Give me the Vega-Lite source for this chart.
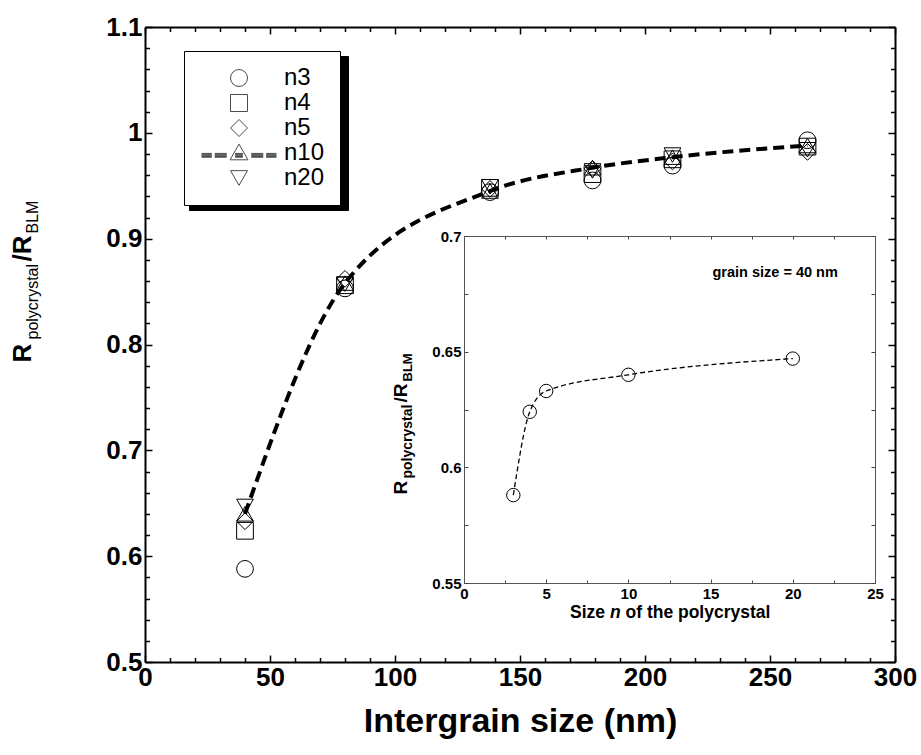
{
  "$schema": "https://vega.github.io/schema/vega-lite/v6.json",
  "width": 750,
  "height": 635,
  "autosize": "none",
  "padding": {"left": 145, "top": 27, "right": 26, "bottom": 93},
  "background": "white",
  "config": {"view": {"stroke": null}, "font": "Liberation Sans", "axis": {"grid": false}},
  "datasets": {
    "main": [
      {"intergrain": 40, "ratio": 0.588, "series": "n3"},
      {"intergrain": 40, "ratio": 0.624, "series": "n4"},
      {"intergrain": 40, "ratio": 0.633, "series": "n5"},
      {"intergrain": 40, "ratio": 0.640, "series": "n10"},
      {"intergrain": 40, "ratio": 0.647, "series": "n20"},
      {"intergrain": 80, "ratio": 0.853, "series": "n3"},
      {"intergrain": 80, "ratio": 0.856, "series": "n4"},
      {"intergrain": 80, "ratio": 0.862, "series": "n5"},
      {"intergrain": 80, "ratio": 0.858, "series": "n10"},
      {"intergrain": 80, "ratio": 0.857, "series": "n20"},
      {"intergrain": 138, "ratio": 0.944, "series": "n3"},
      {"intergrain": 138, "ratio": 0.948, "series": "n4"},
      {"intergrain": 138, "ratio": 0.947, "series": "n5"},
      {"intergrain": 138, "ratio": 0.945, "series": "n10"},
      {"intergrain": 138, "ratio": 0.949, "series": "n20"},
      {"intergrain": 179, "ratio": 0.955, "series": "n3"},
      {"intergrain": 179, "ratio": 0.961, "series": "n4"},
      {"intergrain": 179, "ratio": 0.966, "series": "n5"},
      {"intergrain": 179, "ratio": 0.967, "series": "n10"},
      {"intergrain": 179, "ratio": 0.964, "series": "n20"},
      {"intergrain": 211, "ratio": 0.969, "series": "n3"},
      {"intergrain": 211, "ratio": 0.975, "series": "n4"},
      {"intergrain": 211, "ratio": 0.973, "series": "n5"},
      {"intergrain": 211, "ratio": 0.977, "series": "n10"},
      {"intergrain": 211, "ratio": 0.979, "series": "n20"},
      {"intergrain": 265, "ratio": 0.993, "series": "n3"},
      {"intergrain": 265, "ratio": 0.987, "series": "n4"},
      {"intergrain": 265, "ratio": 0.982, "series": "n5"},
      {"intergrain": 265, "ratio": 0.988, "series": "n10"},
      {"intergrain": 265, "ratio": 0.984, "series": "n20"}
    ],
    "inset": [
      {"n": 3, "ratio": 0.588},
      {"n": 4, "ratio": 0.624},
      {"n": 5, "ratio": 0.633},
      {"n": 10, "ratio": 0.640},
      {"n": 20, "ratio": 0.647}
    ]
  },
  "resolve": {"scale": {"x": "independent", "y": "independent", "shape": "independent"}},
  "layer": [
    {
      "data": {"name": "main"},
      "mark": {"type": "point", "filled": false, "stroke": "black", "strokeWidth": 1, "size": 280, "opacity": 1},
      "encoding": {
        "x": {
          "field": "intergrain", "type": "quantitative",
          "scale": {"domain": [0, 300], "nice": false, "zero": false},
          "axis": {
            "orient": "bottom",
            "values": [0,10,20,30,40,50,60,70,80,90,100,110,120,130,140,150,160,170,180,190,200,210,220,230,240,250,260,270,280,290,300],
            "labelExpr": "datum.value % 50 === 0 ? datum.value + '' : ''",
            "tickSize": {"condition": {"test": "datum.value % 50 === 0", "value": -7}, "value": -4.5},
            "tickColor": "black", "tickWidth": 1.5,
            "domainColor": "black", "domainWidth": 2,
            "labelFont": "Liberation Sans", "labelFontSize": 26, "labelFontWeight": "bold", "labelColor": "black",
            "labelPadding": 9, "labelOverlap": false, "labelBound": false, "labelFlush": false,
            "title": "Intergrain size (nm)",
            "titleFont": "Liberation Sans", "titleFontSize": 34, "titleFontWeight": "bold", "titleColor": "black",
            "titlePadding": 12
          }
        },
        "y": {
          "field": "ratio", "type": "quantitative",
          "scale": {"domain": [0.5, 1.1], "nice": false, "zero": false},
          "axis": {
            "orient": "left",
            "values": [0.5,0.52,0.54,0.56,0.58,0.6,0.62,0.64,0.66,0.68,0.7,0.72,0.74,0.76,0.78,0.8,0.82,0.84,0.86,0.88,0.9,0.92,0.94,0.96,0.98,1.0,1.02,1.04,1.06,1.08,1.1],
            "labelExpr": "round(datum.value*100) % 10 === 0 ? datum.value + '' : ''",
            "tickSize": {"condition": {"test": "round(datum.value*100) % 10 === 0", "value": -7}, "value": -4.5},
            "tickColor": "black", "tickWidth": 1.5,
            "domainColor": "black", "domainWidth": 2,
            "labelFont": "Liberation Sans", "labelFontSize": 26, "labelFontWeight": "bold", "labelColor": "black",
            "labelPadding": 10, "labelOverlap": false, "labelBound": false, "labelFlush": false,
            "title": null
          }
        },
        "shape": {
          "field": "series", "type": "nominal",
          "scale": {"domain": ["n3", "n4", "n5", "n10", "n20"], "range": ["circle", "square", "diamond", "triangle-up", "triangle-down"]},
          "legend": null
        }
      }
    },
    {
      "data": {"name": "main"},
      "transform": [{"filter": "datum.series === 'n10'"}],
      "mark": {"type": "line", "color": "black", "strokeWidth": 4, "strokeDash": [11, 6], "interpolate": "monotone"},
      "encoding": {
        "x": {
          "field": "intergrain", "type": "quantitative",
          "scale": {"domain": [0, 300], "nice": false, "zero": false},
          "axis": {
            "orient": "top",
            "values": [0,10,20,30,40,50,60,70,80,90,100,110,120,130,140,150,160,170,180,190,200,210,220,230,240,250,260,270,280,290,300],
            "labels": false,
            "tickSize": {"condition": {"test": "datum.value % 50 === 0", "value": -7}, "value": -4.5},
            "tickColor": "black", "tickWidth": 1.5,
            "domainColor": "black", "domainWidth": 2,
            "title": null
          }
        },
        "y": {
          "field": "ratio", "type": "quantitative",
          "scale": {"domain": [0.5, 1.1], "nice": false, "zero": false},
          "axis": {
            "orient": "right",
            "values": [0.5,0.52,0.54,0.56,0.58,0.6,0.62,0.64,0.66,0.68,0.7,0.72,0.74,0.76,0.78,0.8,0.82,0.84,0.86,0.88,0.9,0.92,0.94,0.96,0.98,1.0,1.02,1.04,1.06,1.08,1.1],
            "labels": false,
            "tickSize": {"condition": {"test": "round(datum.value*100) % 10 === 0", "value": -7}, "value": -4.5},
            "tickColor": "black", "tickWidth": 1.5,
            "domainColor": "black", "domainWidth": 2,
            "title": null
          }
        }
      }
    },
    {
      "data": {"name": "main"},
      "transform": [{"filter": "false"}],
      "mark": {"type": "point", "filled": false, "color": "black", "strokeWidth": 1, "size": 289},
      "encoding": {
        "shape": {
          "field": "series", "type": "nominal",
          "scale": {"domain": ["n3", "n4", "n5", "n10", "n20"], "range": ["circle", "square", "diamond", "triangle-up", "triangle-down"]},
          "legend": {
            "orient": "none", "legendX": 44, "legendY": 29,
            "title": null,
            "padding": 15,
            "symbolOffset": 72,
            "labelOffset": 33,
            "rowPadding": 1,
            "labelFont": "Liberation Sans", "labelFontSize": 24, "labelColor": "black",
            "labelExpr": "'\u00a0'",
            "symbolSize": 289,
            "symbolStrokeWidth": 1,
            "symbolStrokeColor": "black",
            "symbolFillColor": "black",
            "strokeColor": "black",
            "fillColor": "black"
          }
        }
      }
    },
    {
      "data": {"name": "main"},
      "transform": [{"filter": "false"}],
      "mark": {"type": "point", "filled": false, "color": "black", "strokeWidth": 1, "size": 289},
      "encoding": {
        "shape": {
          "field": "series", "type": "nominal",
          "scale": {"domain": ["n3", "n4", "n5", "n10", "n20"], "range": ["circle", "square", "diamond", "M0,-1.05L1.05,0.8L-1.05,0.8Z M-4.4,0.05H-3.2M-4.4,0.14H-3.2M-4.4,0.23H-3.2M-4.4,0.32H-3.2M-4.4,0.41H-3.2M-4.4,0.5H-3.2 M-2.85,0.05H-1.45M-2.85,0.14H-1.45M-2.85,0.23H-1.45M-2.85,0.32H-1.45M-2.85,0.41H-1.45M-2.85,0.5H-1.45 M-0.45,0.05H0.45M-0.45,0.14H0.45M-0.45,0.23H0.45M-0.45,0.32H0.45M-0.45,0.41H0.45M-0.45,0.5H0.45 M1.45,0.05H2.85M1.45,0.14H2.85M1.45,0.23H2.85M1.45,0.32H2.85M1.45,0.41H2.85M1.45,0.5H2.85 M3.2,0.05H4.4M3.2,0.14H4.4M3.2,0.23H4.4M3.2,0.32H4.4M3.2,0.41H4.4M3.2,0.5H4.4", "triangle-down"]},
          "legend": {
            "orient": "none", "legendX": 39, "legendY": 24,
            "title": null,
            "padding": 15,
            "symbolOffset": 28,
            "labelOffset": 33,
            "rowPadding": 1,
            "labelFont": "Liberation Sans", "labelFontSize": 24, "labelColor": "black",
            "labelExpr": "datum.label + '\u00a0\u00a0\u00a0'",
            "symbolSize": 289,
            "symbolStrokeWidth": 1,
            "symbolStrokeColor": "black",
            "symbolFillColor": "transparent",
            "strokeColor": "black",
            "fillColor": "white"
          }
        }
      }
    },
    {
      "data": {"name": "main"},
      "transform": [{"filter": "false"}],
      "mark": {"type": "point"},
      "encoding": {
        "x": {"field": "intergrain", "type": "quantitative", "scale": {"domain": [0, 300], "nice": false, "zero": false},
          "axis": {"orient": "top", "domain": false, "ticks": false, "labels": false, "title": "R",
            "titleX": -115, "titleY": 335, "titleAngle": -90, "titleAlign": "left", "titleBaseline": "alphabetic",
            "titleFont": "Liberation Sans", "titleFontSize": 26, "titleFontWeight": "bold", "titleColor": "black"}},
        "y": {"field": "ratio", "type": "quantitative", "scale": {"domain": [0.5, 1.1], "nice": false, "zero": false},
          "axis": {"orient": "left", "domain": false, "ticks": false, "labels": false, "title": "polycrystal",
            "titleX": -108, "titleY": 312, "titleAngle": -90, "titleAlign": "left", "titleBaseline": "alphabetic",
            "titleFont": "Liberation Sans", "titleFontSize": 16, "titleFontWeight": "normal", "titleColor": "black"}}
      }
    },
    {
      "data": {"name": "main"},
      "transform": [{"filter": "false"}],
      "mark": {"type": "point"},
      "encoding": {
        "x": {"field": "intergrain", "type": "quantitative", "scale": {"domain": [0, 300], "nice": false, "zero": false},
          "axis": {"orient": "top", "domain": false, "ticks": false, "labels": false, "title": "/R",
            "titleX": -115, "titleY": 234, "titleAngle": -90, "titleAlign": "left", "titleBaseline": "alphabetic",
            "titleFont": "Liberation Sans", "titleFontSize": 26, "titleFontWeight": "bold", "titleColor": "black"}},
        "y": {"field": "ratio", "type": "quantitative", "scale": {"domain": [0.5, 1.1], "nice": false, "zero": false},
          "axis": {"orient": "left", "domain": false, "ticks": false, "labels": false, "title": "BLM",
            "titleX": -108, "titleY": 206, "titleAngle": -90, "titleAlign": "left", "titleBaseline": "alphabetic",
            "titleFont": "Liberation Sans", "titleFontSize": 16, "titleFontWeight": "normal", "titleColor": "black"}}
      }
    },
    {
      "data": {"name": "inset"},
      "transform": [{"filter": "false"}],
      "mark": {"type": "point"},
      "encoding": {
        "x": {"field": "n", "type": "quantitative", "scale": {"domain": [0, 25], "nice": false, "zero": false},
          "axis": {"orient": "top", "domain": false, "ticks": false, "labels": false, "title": "R",
            "titleX": 261, "titleY": 467, "titleAngle": -90, "titleAlign": "left", "titleBaseline": "alphabetic",
            "titleFont": "Liberation Sans", "titleFontSize": 19, "titleFontWeight": "bold", "titleColor": "black"}},
        "y": {"field": "ratio", "type": "quantitative", "scale": {"domain": [0.55, 0.7], "nice": false, "zero": false},
          "axis": {"orient": "left", "domain": false, "ticks": false, "labels": false, "title": "polycrystal",
            "titleX": 266, "titleY": 451, "titleAngle": -90, "titleAlign": "left", "titleBaseline": "alphabetic",
            "titleFont": "Liberation Sans", "titleFontSize": 14, "titleFontWeight": "bold", "titleColor": "black"}}
      }
    },
    {
      "data": {"name": "inset"},
      "transform": [{"filter": "false"}],
      "mark": {"type": "point"},
      "encoding": {
        "x": {"field": "n", "type": "quantitative", "scale": {"domain": [0, 25], "nice": false, "zero": false},
          "axis": {"orient": "top", "domain": false, "ticks": false, "labels": false, "title": "/R",
            "titleX": 261, "titleY": 375, "titleAngle": -90, "titleAlign": "left", "titleBaseline": "alphabetic",
            "titleFont": "Liberation Sans", "titleFontSize": 19, "titleFontWeight": "bold", "titleColor": "black"}},
        "y": {"field": "ratio", "type": "quantitative", "scale": {"domain": [0.55, 0.7], "nice": false, "zero": false},
          "axis": {"orient": "left", "domain": false, "ticks": false, "labels": false, "title": "BLM",
            "titleX": 266, "titleY": 354, "titleAngle": -90, "titleAlign": "left", "titleBaseline": "alphabetic",
            "titleFont": "Liberation Sans", "titleFontSize": 13, "titleFontWeight": "bold", "titleColor": "black"}}
      }
    },
    {
      "data": {"name": "inset"},
      "transform": [{"filter": "false"}],
      "mark": {"type": "point"},
      "encoding": {
        "x": {"field": "n", "type": "quantitative", "scale": {"domain": [0, 25], "nice": false, "zero": false},
          "axis": {"orient": "top", "domain": false, "ticks": false, "labels": false, "title": "grain size = 40 nm",
            "titleX": 567, "titleY": 249, "titleAngle": 0, "titleAlign": "left", "titleBaseline": "alphabetic",
            "titleFont": "Liberation Sans", "titleFontSize": 14.5, "titleFontWeight": "bold", "titleColor": "black"}},
        "y": {"field": "ratio", "type": "quantitative", "scale": {"domain": [0.55, 0.7], "nice": false, "zero": false},
          "axis": {"orient": "left", "domain": false, "ticks": false, "labels": false, "title": "Size",
            "titleX": 424.5, "titleY": 590, "titleAngle": 0, "titleAlign": "left", "titleBaseline": "alphabetic",
            "titleFont": "Liberation Sans", "titleFontSize": 17.5, "titleFontWeight": "bold", "titleColor": "black"}}
      }
    },
    {
      "data": {"name": "inset"},
      "transform": [{"filter": "false"}],
      "mark": {"type": "point"},
      "encoding": {
        "x": {"field": "n", "type": "quantitative", "scale": {"domain": [0, 25], "nice": false, "zero": false},
          "axis": {"orient": "top", "domain": false, "ticks": false, "labels": false, "title": "n",
            "titleX": 464.4, "titleY": 590, "titleAngle": 0, "titleAlign": "left", "titleBaseline": "alphabetic",
            "titleFont": "Liberation Sans", "titleFontSize": 17.5, "titleFontWeight": "bold", "titleFontStyle": "italic", "titleColor": "black"}},
        "y": {"field": "ratio", "type": "quantitative", "scale": {"domain": [0.55, 0.7], "nice": false, "zero": false},
          "axis": {"orient": "left", "domain": false, "ticks": false, "labels": false, "title": "of the polycrystal",
            "titleX": 480, "titleY": 590, "titleAngle": 0, "titleAlign": "left", "titleBaseline": "alphabetic",
            "titleFont": "Liberation Sans", "titleFontSize": 17.5, "titleFontWeight": "bold", "titleColor": "black"}}
      }
    },
    {
      "data": {"name": "inset"},
      "mark": {"type": "line", "color": "black", "strokeWidth": 1.3, "strokeDash": [5, 3], "interpolate": "monotone"},
      "encoding": {
        "x": {
          "field": "n", "type": "quantitative",
          "scale": {"domain": [0, 25], "range": [319, 730], "nice": false, "zero": false},
          "axis": {
            "orient": "bottom", "offset": -79,
            "values": [0, 2.5, 5, 7.5, 10, 12.5, 15, 17.5, 20, 22.5, 25],
            "labelExpr": "datum.value % 5 === 0 ? datum.value + '' : ''",
            "tickSize": {"condition": {"test": "datum.value % 5 === 0", "value": -4}, "value": -3},
            "tickColor": "#444", "tickWidth": 1,
            "domainColor": "#555", "domainWidth": 1,
            "labelFont": "Liberation Sans", "labelFontSize": 15, "labelFontWeight": "bold", "labelColor": "black",
            "labelPadding": 7, "labelOverlap": false, "labelBound": false, "labelFlush": false,
            "title": null
          }
        },
        "y": {
          "field": "ratio", "type": "quantitative",
          "scale": {"domain": [0.55, 0.7], "range": [556, 209], "nice": false, "zero": false},
          "axis": {
            "orient": "left", "offset": -319,
            "values": [0.55, 0.575, 0.6, 0.625, 0.65, 0.675, 0.7],
            "labelExpr": "round(datum.value*1000) % 50 === 0 ? datum.value + '' : ''",
            "tickSize": -4,
            "tickColor": "#444", "tickWidth": 1,
            "domainColor": "#555", "domainWidth": 1,
            "labelFont": "Liberation Sans", "labelFontSize": 15, "labelFontWeight": "bold", "labelColor": "black",
            "labelPadding": 7, "labelOverlap": false, "labelBound": false, "labelFlush": false,
            "title": null
          }
        }
      }
    },
    {
      "data": {"name": "inset"},
      "mark": {"type": "point", "shape": "circle", "filled": false, "stroke": "black", "strokeWidth": 1, "size": 180, "opacity": 1},
      "encoding": {
        "x": {
          "field": "n", "type": "quantitative",
          "scale": {"domain": [0, 25], "range": [319, 730], "nice": false, "zero": false},
          "axis": {
            "orient": "top", "offset": -209,
            "values": [0, 2.5, 5, 7.5, 10, 12.5, 15, 17.5, 20, 22.5, 25],
            "labels": false,
            "tickSize": -3,
            "tickColor": "#444", "tickWidth": 1,
            "domainColor": "#555", "domainWidth": 1,
            "title": null
          }
        },
        "y": {
          "field": "ratio", "type": "quantitative",
          "scale": {"domain": [0.55, 0.7], "range": [556, 209], "nice": false, "zero": false},
          "axis": {
            "orient": "right", "offset": -20,
            "values": [0.55, 0.575, 0.6, 0.625, 0.65, 0.675, 0.7],
            "labels": false,
            "tickSize": -4,
            "tickColor": "#444", "tickWidth": 1,
            "domainColor": "#555", "domainWidth": 1,
            "title": null
          }
        }
      }
    }
  ]
}
